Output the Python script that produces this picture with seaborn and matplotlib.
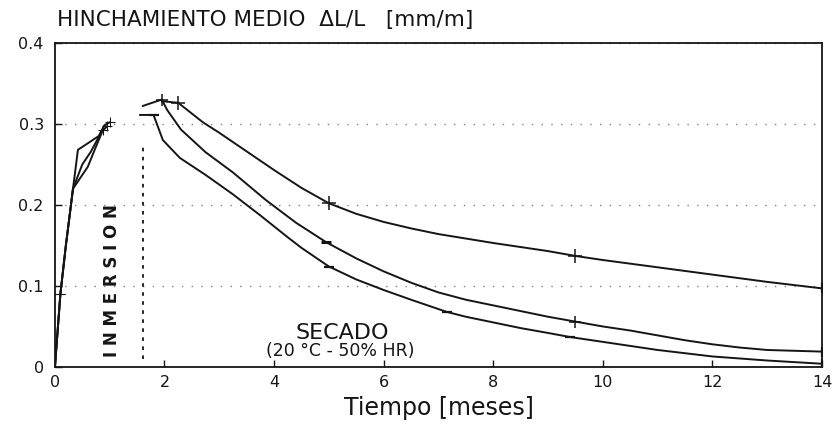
import numpy as np
import pandas as pd
import seaborn as sns
import matplotlib.pyplot as plt

# immersion phase (0 - 1 month), three specimens
t_imm_a = [0.0, 0.1, 0.2, 0.33, 0.42, 0.6, 0.8, 0.9, 1.0]
h_imm_a = [0.0, 0.09, 0.15, 0.22, 0.268, 0.276, 0.285, 0.298, 0.302]
t_imm_b = [0.0, 0.1, 0.2, 0.33, 0.5, 0.65, 0.85, 0.95]
h_imm_b = [0.0, 0.09, 0.15, 0.22, 0.25, 0.265, 0.29, 0.297]
t_imm_c = [0.0, 0.1, 0.2, 0.33, 0.6, 0.75, 0.88]
h_imm_c = [0.0, 0.09, 0.15, 0.22, 0.247, 0.272, 0.293]

# drying phase (20 C - 50% HR)
t_top = [1.95, 2.25, 2.7, 3.0, 3.5, 4.0, 4.5, 5.0, 5.5, 6.0, 6.5, 7.0, 8.0,
         9.0, 9.5, 10.0, 11.0, 12.0, 13.0, 14.0]
h_top = [0.328, 0.326, 0.302, 0.289, 0.266, 0.243, 0.221, 0.202, 0.189, 0.179,
         0.171, 0.164, 0.153, 0.143, 0.137, 0.132, 0.123, 0.114, 0.105, 0.097]
t_mid = [1.6, 1.95, 2.05, 2.3, 2.75, 3.25, 3.85, 4.4, 4.95, 5.5, 6.0, 6.5, 7.0,
         7.5, 8.0, 8.5, 9.0, 9.5, 10.0, 10.5, 11.0, 11.5, 12.0, 12.5, 13.0, 14.0]
h_mid = [0.322, 0.33, 0.317, 0.293, 0.265, 0.24, 0.206, 0.178, 0.154, 0.134,
         0.118, 0.104, 0.092, 0.083, 0.076, 0.069, 0.062, 0.056, 0.050, 0.045,
         0.039, 0.033, 0.028, 0.024, 0.021, 0.019]
t_bot = [1.55, 1.8, 1.97, 2.28, 2.75, 3.25, 3.75, 4.25, 4.5, 5.0, 5.5, 6.0, 6.5,
         7.15, 7.5, 8.0, 8.5, 9.0, 9.4, 10.0, 10.5, 11.0, 11.5, 12.0, 13.0, 14.0]
h_bot = [0.311, 0.311, 0.28, 0.258, 0.237, 0.213, 0.187, 0.16, 0.147, 0.124,
         0.108, 0.095, 0.083, 0.068, 0.062, 0.055, 0.048, 0.042, 0.037, 0.031,
         0.026, 0.021, 0.017, 0.013, 0.008, 0.004]

x_ticks = [0, 2, 4, 6, 8, 10, 12, 14]
y_ticks = [0, 0.1, 0.2, 0.3, 0.4]
y_ticklabels = ["0", "0.1", "0.2", "0.3", "0.4"]

sns.set_theme(style="white")
plt.rcParams["font.family"] = ["DejaVu Sans"]

fig = plt.figure(figsize=(8.32, 4.26), dpi=100)
ax = fig.add_axes([0.066, 0.1385, 0.922, 0.761])

ink = "#151515"
kw = dict(color=ink, linewidth=1.4, estimator=None, sort=False, legend=False, ax=ax)

for t, h in [(t_imm_a, h_imm_a), (t_imm_b, h_imm_b), (t_imm_c, h_imm_c)]:
    sns.lineplot(x=t, y=h, marker="+", markersize=7, markeredgecolor=ink,
                 markevery=[1, len(t) - 1], **kw)

sns.lineplot(x=t_top, y=h_top, marker="+", markersize=10, markeredgewidth=1.1,
             markeredgecolor=ink, markevery=[1, 7, 14], **kw)
sns.lineplot(x=t_mid, y=h_mid, marker="+", markersize=9, markeredgewidth=1.1,
             markeredgecolor=ink, markevery=[1, 17], **kw)
sns.lineplot(x=t_bot, y=h_bot, marker="_", markersize=7, markeredgewidth=1.6,
             markeredgecolor=ink, markevery=[1, 9, 13, 18], **kw)
# end-of-test ticks
sns.scatterplot(x=[t_top[-1], t_mid[-1], t_bot[-1]], y=[h_top[-1], h_mid[-1], h_bot[-1]],
                marker="|", s=60, color=ink, linewidth=1.6, legend=False, ax=ax)
sns.scatterplot(x=[t_mid[8]], y=[h_mid[8]], marker="_", s=60, color=ink,
                linewidth=2.2, legend=False, ax=ax)

# end of immersion
ax.vlines(1.6, 0.01, 0.272, colors=ink, linestyles=(0, (2, 3)), linewidth=1.3)

ax.set_xlim(0, 14)
ax.set_ylim(0, 0.4)
ax.set_xticks(x_ticks)
ax.set_yticks(y_ticks)
ax.set_yticklabels(y_ticklabels)
ax.tick_params(axis="both", direction="in", length=5, width=1, colors=ink,
               labelsize=11.5, bottom=True, left=True)
ax.tick_params(axis="y", pad=8)
ax.tick_params(axis="x", pad=6)
ax.yaxis.grid(True, linestyle=(0, (1, 6)), color="0.5", linewidth=1)
ax.xaxis.grid(False)
for s in ax.spines.values():
    s.set_color(ink)
    s.set_linewidth(1.3)
ax.spines["top"].set_linestyle((0, (8, 1)))

ax.set_xlabel("Tiempo [meses]", fontsize=17, color=ink, labelpad=4)
ax.set_ylabel("")

ax.text(1.04, 0.107, "I N M E R S I O N", rotation=90, ha="center", va="center",
        fontsize=12, fontweight="bold", color=ink)
ax.text(5.24, 0.042, "SECADO", ha="center", va="center", fontsize=16, color=ink)
ax.text(5.2, 0.02, "(20 °C - 50% HR)", ha="center", va="center", fontsize=12.5, color=ink)

fig.text(0.069, 0.952, "HINCHAMIENTO MEDIO  \u0394L/L   [mm/m]", ha="left", va="center",
         fontsize=15.5, color=ink)

fig.savefig("out.png", dpi=100, facecolor="white")
